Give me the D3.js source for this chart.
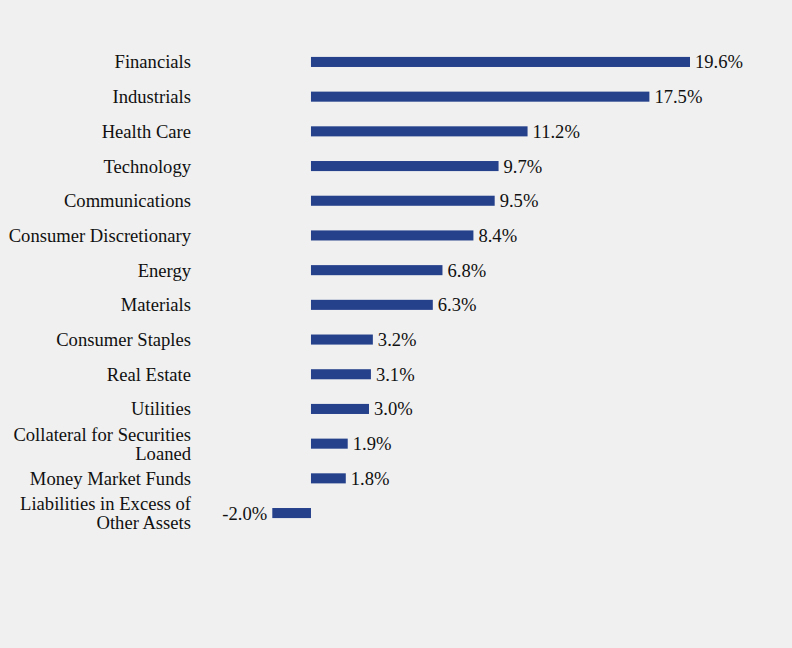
<!DOCTYPE html>
<html>
<head>
<meta charset="utf-8">
<script src="https://cdn.jsdelivr.net/npm/d3@7"></script>
<style>
  body { margin: 0; background: #f0f0f0; }
  svg { display: block; }
</style>
</head>
<body>
<div id="chart"></div>
<script>
const sectors = [
  ["Financials"],
  ["Industrials"],
  ["Health Care"],
  ["Technology"],
  ["Communications"],
  ["Consumer Discretionary"],
  ["Energy"],
  ["Materials"],
  ["Consumer Staples"],
  ["Real Estate"],
  ["Utilities"],
  ["Collateral for Securities", "Loaned"],
  ["Money Market Funds"],
  ["Liabilities in Excess of", "Other Assets"]
]
const weights = [19.6, 17.5, 11.2, 9.7, 9.5, 8.4, 6.8, 6.3, 3.2, 3.1, 3.0, 1.9, 1.8, -2.0]

const width = 792
const height = 648
const barColor = '#26418c'
const fontFamily = '"Liberation Serif", "Times New Roman", serif'
const fontSize = 18.6

const svg = d3.select('#chart').append('svg')
    .attr('width', width)
    .attr('height', height)
    .style('background-color', '#f0f0f0')

// zero sits at 311, 19.6% ends at 690
const x = d3.scaleLinear().domain([-2.0, 19.6]).range([272.3, 690])

const y = d3.scaleBand()
    .domain(d3.range(weights.length))
    .range([44.6, 530.4])
    .paddingInner(0.71)
    .paddingOuter(0.355)

const rows = svg.selectAll('.row')
    .data(weights)
    .join('g')
    .attr('class', 'row')

rows.append('rect')
    .attr('x', d => x(Math.min(0, d)))
    .attr('y', (d, i) => y(i))
    .attr('width', d => Math.abs(x(d) - x(0)))
    .attr('height', y.bandwidth())
    .attr('fill', barColor)

rows.append('text')
    .attr('x', d => d < 0 ? x(d) - 5 : x(d) + 5)
    .attr('y', (d, i) => y(i) + y.bandwidth() / 2)
    .attr('dy', '0.35em')
    .attr('text-anchor', d => d < 0 ? 'end' : 'start')
    .attr('font-family', fontFamily)
    .attr('font-size', fontSize)
    .attr('fill', '#111')
    .text(d => d.toFixed(1) + '%')

// category labels, some wrap onto two lines
const lineGap = 19
rows.append('text')
    .attr('text-anchor', 'end')
    .attr('font-family', fontFamily)
    .attr('font-size', fontSize)
    .attr('fill', '#111')
    .each(function(d, i){
        const lines = sectors[i]
        const cy = y(i) + y.bandwidth() / 2
        const top = cy - (lines.length - 1) * lineGap / 2
        d3.select(this).selectAll('tspan')
            .data(lines)
            .join('tspan')
            .attr('x', 191)
            .attr('y', (l, k) => top + k * lineGap)
            .attr('dy', '0.35em')
            .text(l => l)
    })
</script>
</body>
</html>
